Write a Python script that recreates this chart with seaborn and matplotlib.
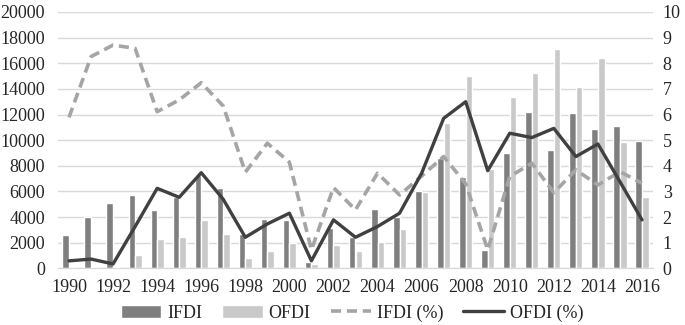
import numpy as np
import pandas as pd
import matplotlib
matplotlib.use("Agg")
import matplotlib.pyplot as plt
import seaborn as sns

years = list(range(1990, 2017))
ifdi = [2600, 4000, 5100, 5700, 4550, 5600, 7250, 6300, 2700, 3850,
        3770, 490, 3170, 2470, 4610, 4030, 6030, 8590, 7160, 1430,
        9030, 12200, 9230, 12090, 10870, 11100, 9940]
ofdi = [100, 100, 100, 1040, 2320, 2450, 3750, 2650, 830, 1380,
        1980, 300, 1820, 1330, 2030, 3050, 5980, 11310, 14980, 7720,
        13390, 15270, 17140, 14120, 16380, 9860, 5590]
ifdi_pct = [5.89, 8.26, 8.71, 8.58, 6.11, 6.57, 7.24, 6.33, 3.75, 4.88,
            4.14, 0.72, 3.15, 2.28, 3.71, 2.86, 3.60, 4.36, 3.30, 0.72,
            3.58, 4.10, 2.95, 3.84, 3.25, 3.77, 3.32]
ofdi_pct = [0.29, 0.36, 0.17, 1.63, 3.12, 2.77, 3.73, 2.69, 1.21, 1.73,
            2.15, 0.29, 1.89, 1.21, 1.63, 2.15, 3.71, 5.85, 6.50, 3.81,
            5.27, 5.10, 5.46, 4.36, 4.85, 3.38, 1.89]

bars = pd.DataFrame({"year": years * 2,
                     "value": ifdi + ofdi,
                     "series": ["IFDI"] * len(years) + ["OFDI"] * len(years)})

sns.set_style("white")
plt.rcParams["font.family"] = ["Liberation Serif", "DejaVu Serif"]
plt.rcParams["font.size"] = 13

fig = plt.figure(figsize=(6.85, 3.25), dpi=100)
ax = fig.add_axes([58 / 685, 1 - 268.3 / 325, 595 / 685, 256.3 / 325])

sns.barplot(data=bars, x="year", y="value", hue="series", native_scale=True,
            width=0.6, palette={"IFDI": "#7f7f7f", "OFDI": "#c9c9c9"},
            saturation=1, errorbar=None, ax=ax)
ax.get_legend().remove()

ax2 = ax.twinx()
sns.lineplot(x=years, y=ifdi_pct, ax=ax2, color="#a5a5a5", linewidth=2.6,
             dashes=False, label="IFDI (%)")
ax2.get_lines()[-1].set_dashes((2.8, 1.6))
sns.lineplot(x=years, y=ofdi_pct, ax=ax2, color="#404040", linewidth=2.4,
             label="OFDI (%)")
ax2.get_legend().remove()

ax.set_xlim(1989.5, 2016.5)
ax.set_xticks(range(1990, 2017, 2))
ax.set_xticklabels([str(y) for y in range(1990, 2017, 2)])
ax.set_ylim(0, 20000)
ax.set_yticks(range(0, 20001, 2000))
ax2.set_ylim(0, 10)
ax2.set_yticks(range(0, 11))
ax.set_xlabel("")
ax.set_ylabel("")
ax2.set_ylabel("")

ax.yaxis.grid(True, color="#d9d9d9", linewidth=1)
ax.set_axisbelow(True)
for a in (ax, ax2):
    for s in ("top", "left", "right"):
        a.spines[s].set_visible(False)
    a.spines["bottom"].set_color("#d9d9d9")
ax.tick_params(axis="y", length=0, pad=9.5, labelsize=13)
ax.tick_params(axis="x", length=0, pad=8, labelsize=13)
ax2.tick_params(axis="y", length=0, pad=7, labelsize=13)

h1, l1 = ax.get_legend_handles_labels()
h2, l2 = ax2.get_legend_handles_labels()
fig.legend(h1 + h2, l1 + l2, loc="center", bbox_to_anchor=(0.514, 1 - 313 / 325),
           ncol=4, frameon=False, fontsize=13, handlelength=2.25,
           handletextpad=0.33, columnspacing=1.1)

fig.savefig("out.png", dpi=100)
